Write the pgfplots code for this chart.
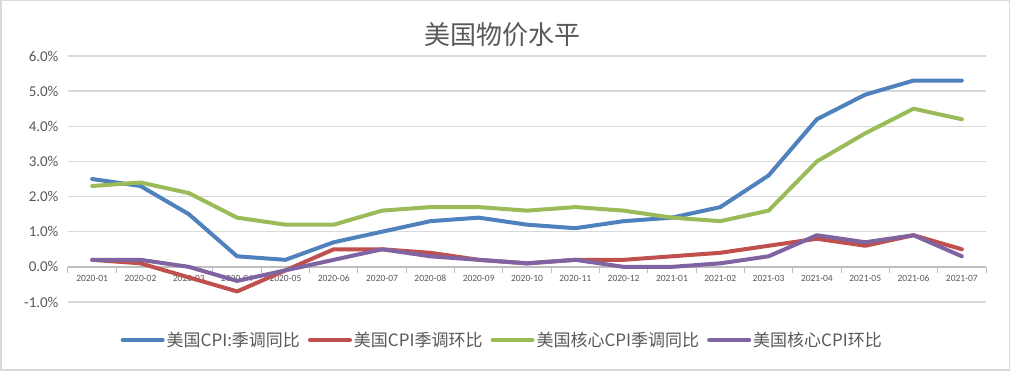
\documentclass[border=0pt]{standalone}
\usepackage{pgfplots}
\pgfplotsset{compat=1.18}
\usepackage{fontspec}
\setmainfont{Carlito}
\newfontfamily\cjk{Noto Sans CJK SC}
\definecolor{cblue}{HTML}{4F81BD}
\definecolor{cred}{HTML}{C0504D}
\definecolor{cgreen}{HTML}{9BBB59}
\definecolor{cpurple}{HTML}{8064A2}
\definecolor{txtgray}{HTML}{595959}
\definecolor{gridgray}{HTML}{D9D9D9}
\definecolor{axisgray}{HTML}{BFBFBF}
\begin{document}
\begin{tikzpicture}
\useasboundingbox (0,0) rectangle (1010pt,371pt);
\fill[white] (0,0) rectangle (1010pt,371pt);
\draw[gridgray, line width=1.5pt] (0.75pt,0.75pt) rectangle (1009.25pt,370.25pt);
\node[font=\cjk\fontsize{26}{30}\selectfont, text=txtgray] at (502pt,336pt) {美国物价水平};
\begin{axis}[
  at={(68pt,69pt)}, anchor=south west,
  scale only axis, width=918pt, height=246pt,
  xmin=-0.5, xmax=18.5, ymin=-1, ymax=6,
  axis x line=middle, axis y line=left,
  x axis line style={-, draw=axisgray, line width=1.5pt},
  y axis line style={draw=none},
  xtick={0,...,18},
  xticklabels={2020-01,2020-02,2020-03,2020-04,2020-05,2020-06,2020-07,2020-08,2020-09,2020-10,2020-11,2020-12,2021-01,2021-02,2021-03,2021-04,2021-05,2021-06,2021-07},
  minor xtick={-0.5,0.5,...,18.5},
  xtick align=outside,
  major tick length=0pt, minor tick length=6pt,
  minor x tick style={draw=axisgray, line width=1pt},
  ytick={-1,0,...,6},
  ytick style={draw=none},
  ymajorgrids, xmajorgrids=false,
  grid style={gridgray, line width=1.5pt},
  /pgf/number format/assume math mode=true,
  yticklabel={\pgfmathprintnumber[fixed,fixed zerofill,precision=1]{\tick}\%},
  yticklabel style={font=\fontsize{15}{18}\selectfont, text=txtgray, xshift=-6pt},
  xticklabel style={font=\fontsize{9.5}{11}\selectfont, text=txtgray, yshift=-5pt},
  legend columns=4,
  legend style={at={(0.473,-0.1545)}, anchor=center, draw=none, fill=none,
    font=\cjk\fontsize{17}{20}\selectfont, text=txtgray,
    /tikz/every even column/.append style={column sep=6pt}},
  legend image code/.code={\draw[#1, line width=4pt, line cap=round] (1pt,0pt) -- (41pt,0pt);},
  every axis plot/.append style={line width=4pt, line join=round, line cap=round, no marks},
  clip=false,
]
\addplot[cblue] coordinates {(0,2.5)(1,2.3)(2,1.5)(3,0.3)(4,0.2)(5,0.7)(6,1.0)(7,1.3)(8,1.4)(9,1.2)(10,1.1)(11,1.3)(12,1.4)(13,1.7)(14,2.6)(15,4.2)(16,4.9)(17,5.3)(18,5.3)};
\addlegendentry{美国CPI:季调同比}
\addplot[cred] coordinates {(0,0.2)(1,0.1)(2,-0.3)(3,-0.7)(4,-0.1)(5,0.5)(6,0.5)(7,0.4)(8,0.2)(9,0.1)(10,0.2)(11,0.2)(12,0.3)(13,0.4)(14,0.6)(15,0.8)(16,0.6)(17,0.9)(18,0.5)};
\addlegendentry{美国CPI季调环比}
\addplot[cgreen] coordinates {(0,2.3)(1,2.4)(2,2.1)(3,1.4)(4,1.2)(5,1.2)(6,1.6)(7,1.7)(8,1.7)(9,1.6)(10,1.7)(11,1.6)(12,1.4)(13,1.3)(14,1.6)(15,3.0)(16,3.8)(17,4.5)(18,4.2)};
\addlegendentry{美国核心CPI季调同比}
\addplot[cpurple] coordinates {(0,0.2)(1,0.2)(2,0.0)(3,-0.4)(4,-0.1)(5,0.2)(6,0.5)(7,0.3)(8,0.2)(9,0.1)(10,0.2)(11,0.0)(12,0.0)(13,0.1)(14,0.3)(15,0.9)(16,0.7)(17,0.9)(18,0.3)};
\addlegendentry{美国核心CPI环比}
\end{axis}
\end{tikzpicture}
\end{document}
